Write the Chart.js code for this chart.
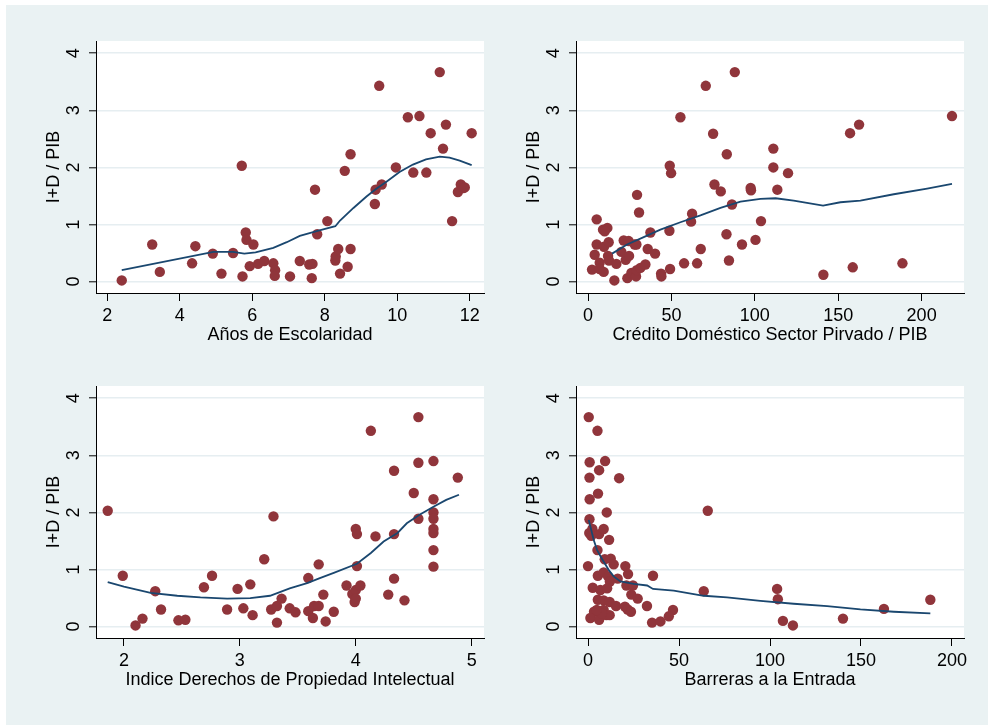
<!DOCTYPE html>
<html>
<head>
<meta charset="utf-8">
<script src="https://cdn.jsdelivr.net/npm/chart.js@4.4.1/dist/chart.umd.min.js"></script>
<style>
  html, body { margin: 0; padding: 0; background: #ffffff; }
  body { width: 988px; height: 725px; position: relative; overflow: hidden; }
  #bg { position: absolute; left: 6px; top: 5px; width: 982px; height: 720px; background: #eaf2f3; }
  canvas { position: absolute; }
</style>
</head>
<body>
<div id="bg"></div>
<canvas id="c1" width="494" height="360" style="left:0px;top:0px"></canvas>
<canvas id="c2" width="494" height="360" style="left:480px;top:0px"></canvas>
<canvas id="c3" width="494" height="360" style="left:0px;top:345px"></canvas>
<canvas id="c4" width="494" height="360" style="left:480px;top:345px"></canvas>
<script>
// ---------- Data ----------
const yTitle = "I+D / PIB";
const yTicks = [0, 1, 2, 3, 4];

// Panel 1: Años de Escolaridad
const escTitle = "Años de Escolaridad";
const escTicks = [2, 4, 6, 8, 10, 12];
const escX = [2.40,3.24,3.45,4.34,4.43,4.91,5.15,5.47,5.71,5.73,5.82,5.84,6.03,5.93,6.16,6.33,6.58,6.63,6.62,7.04,7.31,7.57,7.66,7.64,7.73,7.79,8.07,8.30,8.29,8.37,8.42,8.63,8.71,8.55,8.71,9.38,9.40,9.57,9.50,9.96,10.29,10.44,10.61,10.80,10.92,11.17,11.26,11.34,11.51,11.67,11.75,11.82,11.86,12.05];
const escY = [0.02,0.65,0.17,0.32,0.62,0.49,0.14,0.50,2.03,0.09,0.86,0.73,0.65,0.27,0.31,0.36,0.32,0.20,0.10,0.09,0.36,0.30,0.31,0.06,1.61,0.83,1.06,0.44,0.37,0.57,0.14,0.26,0.57,1.94,2.23,1.36,1.61,1.70,3.43,2.00,2.88,1.91,2.90,1.91,2.60,3.67,2.33,2.75,1.06,1.57,1.70,1.64,1.65,2.60];
const escLowX = [2.40,4.93,5.47,5.78,6.09,6.58,6.95,7.31,7.58,7.80,8.29,8.42,8.79,9.15,9.43,9.70,10.06,10.43,10.79,11.17,11.44,11.72,12.05];
const escLowY = [0.20,0.52,0.52,0.49,0.51,0.59,0.69,0.80,0.85,0.89,0.97,1.07,1.29,1.49,1.63,1.75,1.92,2.05,2.14,2.19,2.17,2.12,2.04];

// Panel 2: Crédito Doméstico Sector Privado / PIB
const credTitle = "Crédito Doméstico Sector Pirvado / PIB";
const credTicks = [0, 50, 100, 150, 200];
const credX = [2.4,4.0,5.2,5.2,7.0,7.0,9.0,9.4,9.6,11.6,12.4,12.0,12.6,15.8,17.0,20.0,21.4,22.6,23.6,24.4,24.6,26.0,28.0,29.0,29.4,28.8,29.2,30.6,31.4,34.4,35.8,37.4,40.2,43.8,44.0,49.0,49.8,48.8,49.2,55.4,57.6,62.4,61.8,65.4,67.6,70.6,75.0,75.8,79.6,83.2,83.0,84.5,86.3,88.0,92.3,97.5,97.7,100.4,103.7,111.1,111.1,113.5,119.9,141.1,157.1,158.7,162.5,188.5,218.2,10.0];
const credY = [0.21,0.47,1.09,0.65,0.33,0.22,0.91,0.17,0.61,0.94,0.69,0.45,0.37,0.02,0.31,0.52,0.72,0.38,0.06,0.71,0.45,0.15,0.65,0.65,1.52,0.09,0.20,1.21,0.24,0.30,0.57,0.86,0.49,0.14,0.09,2.03,1.90,0.89,0.22,2.88,0.32,1.19,1.05,0.32,0.57,3.43,2.59,1.70,1.58,2.23,0.83,0.37,1.35,3.67,0.65,1.64,1.60,0.73,1.06,2.33,2.00,1.61,1.90,0.12,2.60,0.25,2.75,0.32,2.90,0.88];
const credLowX = [14.4,23.4,33.4,43.4,55.4,67.4,79.4,91.4,103.4,112.4,123.3,140.9,151.3,163.3,183.3,203.3,218.2];
const credLowY = [0.49,0.65,0.78,0.91,1.04,1.16,1.29,1.40,1.45,1.46,1.42,1.33,1.39,1.42,1.53,1.63,1.71];

// Panel 3: Indice Derechos de Propiedad Intelectual
const ipTitle = "Indice Derechos de Propiedad Intelectual";
const ipTicks = [2, 3, 4, 5];
const ipX = [1.86,1.99,2.10,2.16,2.27,2.32,2.47,2.53,2.69,2.76,2.89,2.98,3.03,3.09,3.11,3.21,3.27,3.29,3.32,3.32,3.36,3.43,3.48,3.59,3.59,3.63,3.64,3.68,3.68,3.72,3.74,3.81,3.92,3.97,3.99,4.00,4.01,4.01,4.00,4.00,4.04,4.13,4.17,4.28,4.33,4.33,4.33,4.42,4.50,4.54,4.54,4.54,4.67,4.67,4.67,4.67,4.67,4.67,4.67,4.67,4.88];
const ipY = [2.03,0.89,0.02,0.14,0.62,0.30,0.11,0.12,0.69,0.89,0.30,0.66,0.32,0.74,0.20,1.18,0.30,1.93,0.36,0.07,0.49,0.32,0.25,0.85,0.27,0.15,0.36,0.36,1.09,0.56,0.09,0.26,0.72,0.57,0.43,1.71,1.62,1.06,0.64,0.49,0.72,3.43,1.58,0.56,2.73,1.62,0.84,0.46,2.34,3.67,2.87,1.89,2.90,2.23,2.00,1.89,1.71,1.64,1.34,1.05,2.61];
const ipLowX = [1.86,2.00,2.23,2.46,2.66,2.89,3.09,3.26,3.43,3.58,3.69,3.81,4.01,4.13,4.24,4.36,4.44,4.55,4.67,4.78,4.89];
const ipLowY = [0.78,0.70,0.59,0.54,0.51,0.49,0.50,0.54,0.67,0.76,0.85,0.94,1.10,1.29,1.49,1.64,1.81,1.96,2.10,2.22,2.31];

// Panel 4: Barreras a la Entrada
const barTitle = "Barreras a la Entrada";
const barTicks = [0, 50, 100, 150, 200];
const barX = [0.4,5.2,0.9,9.4,6.1,0.8,17.1,5.5,0.9,10.3,65.8,0.8,0.7,2.4,1.8,6.1,8.6,11.6,5.2,0.0,9.2,12.5,14.1,20.5,22.0,35.7,5.4,8.6,11.0,16.3,2.6,12.0,6.8,10.5,21.1,24.7,63.6,103.9,104.3,5.4,8.6,11.9,23.8,27.3,188.1,15.4,20.3,21.8,23.6,32.4,46.7,162.6,3.3,1.3,6.1,8.6,10.1,11.9,44.4,35.2,39.8,107.1,112.6,140.1,7.6,4.8];
const barY = [3.67,3.43,2.88,2.90,2.74,2.61,2.60,2.33,2.23,2.00,2.03,1.88,1.64,1.71,1.59,1.62,1.71,1.52,1.34,1.06,1.18,1.19,1.09,1.06,0.92,0.89,0.89,0.95,0.88,0.84,0.68,0.79,0.64,0.67,0.72,0.72,0.62,0.66,0.48,0.47,0.46,0.43,0.56,0.49,0.47,0.36,0.35,0.30,0.26,0.36,0.29,0.31,0.26,0.15,0.12,0.29,0.20,0.20,0.18,0.07,0.09,0.10,0.02,0.14,0.23,0.29];
const barLowX = [0.4,3.1,5.0,7.8,11.4,14.1,17.8,25.1,32.5,35.7,47.1,63.6,76.4,94.7,113.0,131.4,149.7,168.0,188.1];
const barLowY = [1.87,1.52,1.34,1.18,0.99,0.88,0.79,0.75,0.72,0.66,0.63,0.54,0.51,0.45,0.40,0.36,0.30,0.26,0.23];

// ---------- Styling ----------
const MAROON = '#90353b';
const NAVY = '#1a476f';
const GRID = '#e6eef1';
const FONT = "'Liberation Sans', Arial, sans-serif";

const plotBg = {
  id: 'plotBg',
  beforeDraw(chart) {
    const {ctx, chartArea: a} = chart;
    ctx.save();
    ctx.fillStyle = '#ffffff';
    ctx.fillRect(a.left, a.top, a.right - a.left, a.bottom - a.top);
    ctx.restore();
  }
};

function toPts(xs, ys) { return xs.map((x, i) => ({x: x, y: ys[i]})); }

function makeChart(id, xs, ys, lx, ly, xTicks, xMin, xMax, xTitle) {
  const yAxisW = 60, xAxisH = 60;
  new Chart(document.getElementById(id), {
    type: 'scatter',
    data: {
      datasets: [
        { data: toPts(lx, ly), showLine: true, pointRadius: 0, borderColor: NAVY, borderWidth: 1.8, fill: false, tension: 0 },
        { data: toPts(xs, ys), pointRadius: 5.2, pointBackgroundColor: MAROON, pointBorderColor: MAROON, pointBorderWidth: 0, showLine: false }
      ]
    },
    options: {
      responsive: false,
      animation: false,
      devicePixelRatio: 1,
      layout: { padding: { left: 96 - yAxisW, top: 41, right: 10, bottom: 360 - 293 - xAxisH } },
      plugins: { legend: { display: false }, tooltip: { enabled: false } },
      scales: {
        x: {
          type: 'linear', min: xMin, max: xMax,
          afterBuildTicks: (ax) => { ax.ticks = xTicks.map(v => ({value: v})); },
          afterFit: (s) => { s.height = xAxisH; },
          grid: { drawOnChartArea: false, drawTicks: true, tickLength: 8, tickColor: '#000', tickWidth: 1 },
          border: { display: true, color: '#000', width: 1 },
          ticks: { autoSkip: false, maxRotation: 0, minRotation: 0, padding: 4, color: '#000', font: { family: FONT, size: 18 } },
          title: { display: true, text: xTitle, color: '#000', font: { family: FONT, size: 18 }, padding: { top: 0, bottom: 7 } }
        },
        y: {
          type: 'linear', min: -0.2, max: 4.215,
          afterBuildTicks: (ax) => { ax.ticks = yTicks.map(v => ({value: v})); },
          afterFit: (s) => { s.width = yAxisW; },
          grid: { drawOnChartArea: true, color: GRID, lineWidth: 1.6, drawTicks: true, tickLength: 7, tickColor: '#000', tickWidth: 1 },
          border: { display: true, color: '#000', width: 1 },
          ticks: { autoSkip: false, minRotation: 90, maxRotation: 90, crossAlign: 'center', padding: 10, color: '#000', font: { family: FONT, size: 18 } },
          title: { display: true, text: yTitle, color: '#000', font: { family: FONT, size: 18 }, padding: { top: 7, bottom: 0 } }
        }
      }
    },
    plugins: [plotBg]
  });
}

makeChart('c1', escX, escY, escLowX, escLowY, escTicks, 1.69, 12.39, escTitle);
makeChart('c2', credX, credY, credLowX, credLowY, credTicks, -7.2, 225.4, credTitle);
makeChart('c3', ipX, ipY, ipLowX, ipLowY, ipTicks, 1.759, 5.106, ipTitle);
makeChart('c4', barX, barY, barLowX, barLowY, barTicks, -6.6, 206.6, barTitle);
</script>
</body>
</html>
